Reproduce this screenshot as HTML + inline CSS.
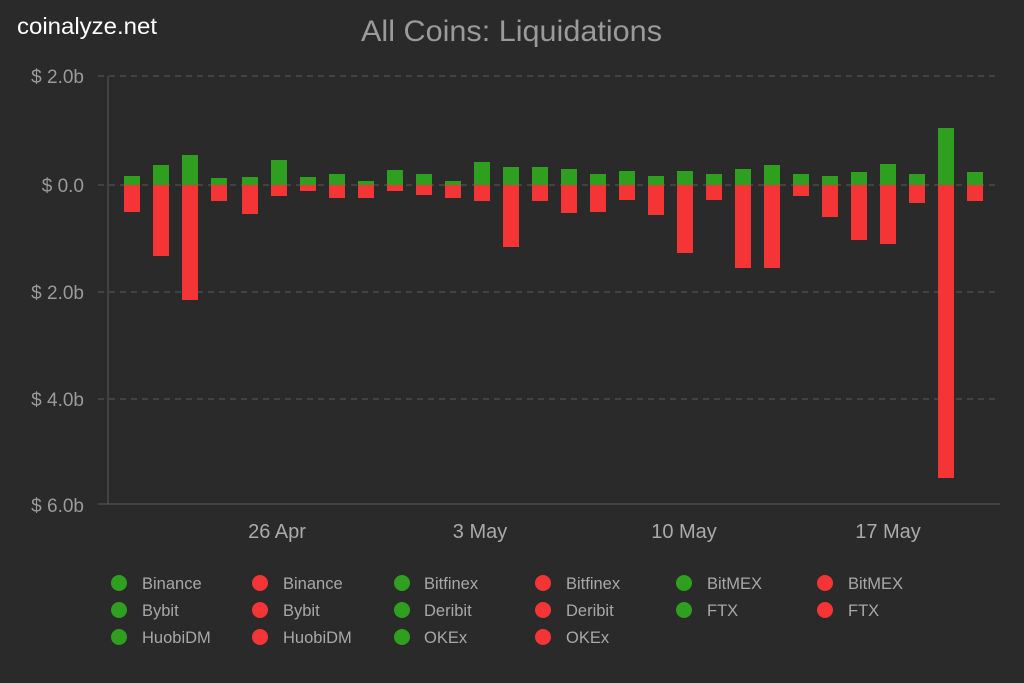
<!DOCTYPE html>
<html><head><meta charset="utf-8"><style>
html,body{margin:0;padding:0;background:#2a2a2a;}
svg{display:block;font-family:"Liberation Sans",Arial,sans-serif;}
</style></head><body>
<svg width="1024" height="683" viewBox="0 0 1024 683" xmlns="http://www.w3.org/2000/svg">
<rect width="1024" height="683" fill="#2a2a2a"/>
<text x="17" y="34" font-size="23" fill="#ffffff" textLength="140" lengthAdjust="spacingAndGlyphs">coinalyze.net</text>
<text x="361" y="41" font-size="30" fill="#9a9a9a" textLength="301" lengthAdjust="spacingAndGlyphs">All Coins: Liquidations</text>
<g stroke="#5a5a5a" stroke-width="1" stroke-dasharray="6,5">
<line x1="98" y1="76" x2="1000" y2="76"/>
<line x1="98" y1="185" x2="1000" y2="185"/>
<line x1="98" y1="292" x2="1000" y2="292"/>
<line x1="98" y1="399" x2="1000" y2="399"/>
</g>
<line x1="108" y1="76" x2="108" y2="504" stroke="#5a5a5a"/>
<line x1="98" y1="504" x2="1000" y2="504" stroke="#5a5a5a"/>
<g font-size="19" fill="#9a9a9a" text-anchor="end">
<text x="84" y="83">$ 2.0b</text>
<text x="84" y="192">$ 0.0</text>
<text x="84" y="299">$ 2.0b</text>
<text x="84" y="406">$ 4.0b</text>
<text x="84" y="512">$ 6.0b</text>
</g>
<g font-size="20" fill="#aaaaaa" text-anchor="middle">
<text x="277" y="538">26 Apr</text>
<text x="480" y="538">3 May</text>
<text x="684" y="538">10 May</text>
<text x="888" y="538">17 May</text>
</g>
<g font-size="16.5" fill="#a8a8a8">
<circle cx="119" cy="583" r="8" fill="#2e9f1f"/><text x="142" y="589">Binance</text>
<circle cx="260" cy="583" r="8" fill="#f53535"/><text x="283" y="589">Binance</text>
<circle cx="402" cy="583" r="8" fill="#2e9f1f"/><text x="424" y="589">Bitfinex</text>
<circle cx="543" cy="583" r="8" fill="#f53535"/><text x="566" y="589">Bitfinex</text>
<circle cx="684" cy="583" r="8" fill="#2e9f1f"/><text x="707" y="589">BitMEX</text>
<circle cx="825" cy="583" r="8" fill="#f53535"/><text x="848" y="589">BitMEX</text>
<circle cx="119" cy="610" r="8" fill="#2e9f1f"/><text x="142" y="616">Bybit</text>
<circle cx="260" cy="610" r="8" fill="#f53535"/><text x="283" y="616">Bybit</text>
<circle cx="402" cy="610" r="8" fill="#2e9f1f"/><text x="424" y="616">Deribit</text>
<circle cx="543" cy="610" r="8" fill="#f53535"/><text x="566" y="616">Deribit</text>
<circle cx="684" cy="610" r="8" fill="#2e9f1f"/><text x="707" y="616">FTX</text>
<circle cx="825" cy="610" r="8" fill="#f53535"/><text x="848" y="616">FTX</text>
<circle cx="119" cy="637" r="8" fill="#2e9f1f"/><text x="142" y="643">HuobiDM</text>
<circle cx="260" cy="637" r="8" fill="#f53535"/><text x="283" y="643">HuobiDM</text>
<circle cx="402" cy="637" r="8" fill="#2e9f1f"/><text x="424" y="643">OKEx</text>
<circle cx="543" cy="637" r="8" fill="#f53535"/><text x="566" y="643">OKEx</text>
</g>
<g>
<rect x="124" y="176" width="16" height="9" fill="#2e9f1f"/><rect x="124" y="185" width="16" height="27" fill="#f53535"/>
<rect x="153" y="165" width="16" height="20" fill="#2e9f1f"/><rect x="153" y="185" width="16" height="71" fill="#f53535"/>
<rect x="182" y="155" width="16" height="30" fill="#2e9f1f"/><rect x="182" y="185" width="16" height="115" fill="#f53535"/>
<rect x="211" y="178" width="16" height="7" fill="#2e9f1f"/><rect x="211" y="185" width="16" height="16" fill="#f53535"/>
<rect x="242" y="177" width="16" height="8" fill="#2e9f1f"/><rect x="242" y="185" width="16" height="29" fill="#f53535"/>
<rect x="271" y="160" width="16" height="25" fill="#2e9f1f"/><rect x="271" y="185" width="16" height="11" fill="#f53535"/>
<rect x="300" y="177" width="16" height="8" fill="#2e9f1f"/><rect x="300" y="185" width="16" height="6" fill="#f53535"/>
<rect x="329" y="174" width="16" height="11" fill="#2e9f1f"/><rect x="329" y="185" width="16" height="13" fill="#f53535"/>
<rect x="358" y="181" width="16" height="4" fill="#2e9f1f"/><rect x="358" y="185" width="16" height="13" fill="#f53535"/>
<rect x="387" y="170" width="16" height="15" fill="#2e9f1f"/><rect x="387" y="185" width="16" height="6" fill="#f53535"/>
<rect x="416" y="174" width="16" height="11" fill="#2e9f1f"/><rect x="416" y="185" width="16" height="10" fill="#f53535"/>
<rect x="445" y="181" width="16" height="4" fill="#2e9f1f"/><rect x="445" y="185" width="16" height="13" fill="#f53535"/>
<rect x="474" y="162" width="16" height="23" fill="#2e9f1f"/><rect x="474" y="185" width="16" height="16" fill="#f53535"/>
<rect x="503" y="167" width="16" height="18" fill="#2e9f1f"/><rect x="503" y="185" width="16" height="62" fill="#f53535"/>
<rect x="532" y="167" width="16" height="18" fill="#2e9f1f"/><rect x="532" y="185" width="16" height="16" fill="#f53535"/>
<rect x="561" y="169" width="16" height="16" fill="#2e9f1f"/><rect x="561" y="185" width="16" height="28" fill="#f53535"/>
<rect x="590" y="174" width="16" height="11" fill="#2e9f1f"/><rect x="590" y="185" width="16" height="27" fill="#f53535"/>
<rect x="619" y="171" width="16" height="14" fill="#2e9f1f"/><rect x="619" y="185" width="16" height="15" fill="#f53535"/>
<rect x="648" y="176" width="16" height="9" fill="#2e9f1f"/><rect x="648" y="185" width="16" height="30" fill="#f53535"/>
<rect x="677" y="171" width="16" height="14" fill="#2e9f1f"/><rect x="677" y="185" width="16" height="68" fill="#f53535"/>
<rect x="706" y="174" width="16" height="11" fill="#2e9f1f"/><rect x="706" y="185" width="16" height="15" fill="#f53535"/>
<rect x="735" y="169" width="16" height="16" fill="#2e9f1f"/><rect x="735" y="185" width="16" height="83" fill="#f53535"/>
<rect x="764" y="165" width="16" height="20" fill="#2e9f1f"/><rect x="764" y="185" width="16" height="83" fill="#f53535"/>
<rect x="793" y="174" width="16" height="11" fill="#2e9f1f"/><rect x="793" y="185" width="16" height="11" fill="#f53535"/>
<rect x="822" y="176" width="16" height="9" fill="#2e9f1f"/><rect x="822" y="185" width="16" height="32" fill="#f53535"/>
<rect x="851" y="172" width="16" height="13" fill="#2e9f1f"/><rect x="851" y="185" width="16" height="55" fill="#f53535"/>
<rect x="880" y="164" width="16" height="21" fill="#2e9f1f"/><rect x="880" y="185" width="16" height="59" fill="#f53535"/>
<rect x="909" y="174" width="16" height="11" fill="#2e9f1f"/><rect x="909" y="185" width="16" height="18" fill="#f53535"/>
<rect x="938" y="128" width="16" height="57" fill="#2e9f1f"/><rect x="938" y="185" width="16" height="293" fill="#f53535"/>
<rect x="967" y="172" width="16" height="13" fill="#2e9f1f"/><rect x="967" y="185" width="16" height="16" fill="#f53535"/>
</g>
</svg>
</body></html>
